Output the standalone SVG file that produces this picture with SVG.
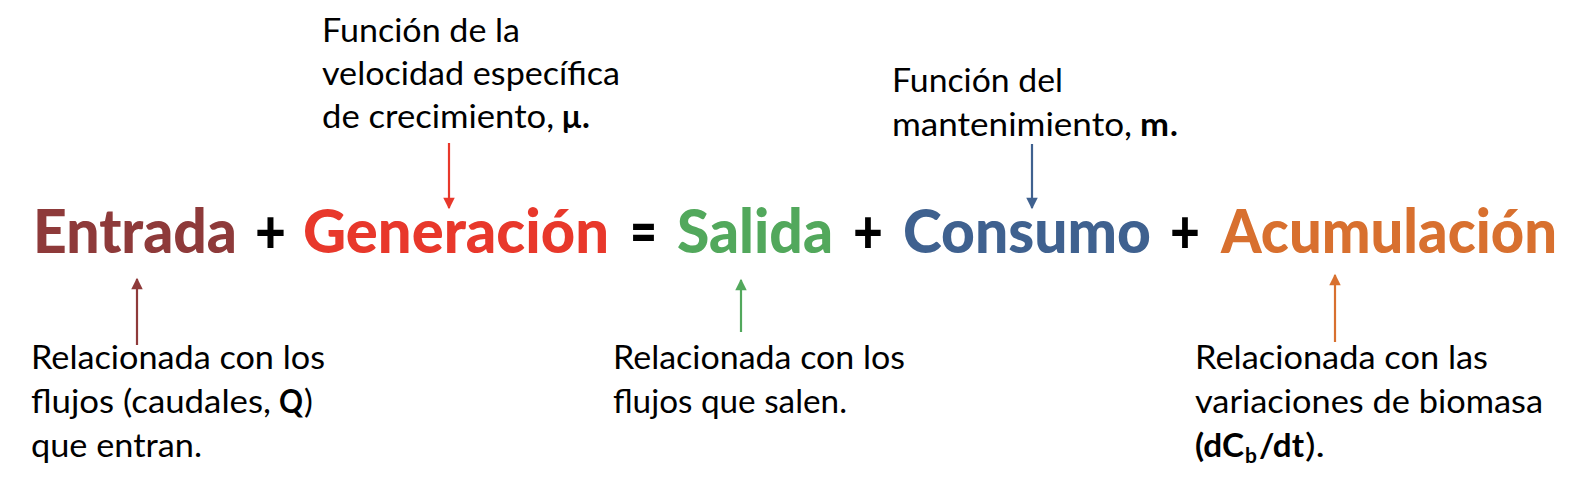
<svg xmlns="http://www.w3.org/2000/svg" width="1584" height="494" viewBox="0 0 1584 494">
<style>
.t{font-family:Lato,"Open Sans","Liberation Sans",sans-serif;font-weight:900;font-size:60px}
.n{font-family:Lato,"Open Sans","Liberation Sans",sans-serif;font-size:33px;fill:#000}
.b{font-weight:700}
.sub{font-size:21px}
.op{fill:#000}
.c1{fill:#8E3A3A}.c2{fill:#E8382B}.c3{fill:#52A85C}.c4{fill:#3F618F}.c5{fill:#D8702F}
.a{stroke-width:2.2;fill:none}
</style>
<defs>
<marker id="m1" viewBox="0 0 10 10" refX="9" refY="5" markerWidth="5.8" markerHeight="5.2" orient="auto"><path d="M0,0L10,5L0,10z" fill="#8E3A3A"/></marker>
<marker id="m2" viewBox="0 0 10 10" refX="9" refY="5" markerWidth="5.8" markerHeight="5.2" orient="auto"><path d="M0,0L10,5L0,10z" fill="#E8382B"/></marker>
<marker id="m3" viewBox="0 0 10 10" refX="9" refY="5" markerWidth="5.8" markerHeight="5.2" orient="auto"><path d="M0,0L10,5L0,10z" fill="#52A85C"/></marker>
<marker id="m4" viewBox="0 0 10 10" refX="9" refY="5" markerWidth="5.8" markerHeight="5.2" orient="auto"><path d="M0,0L10,5L0,10z" fill="#3F618F"/></marker>
<marker id="m5" viewBox="0 0 10 10" refX="9" refY="5" markerWidth="5.8" markerHeight="5.2" orient="auto"><path d="M0,0L10,5L0,10z" fill="#D8702F"/></marker>
</defs>
<rect width="1584" height="494" fill="#fff"/>
<g id="equation">
<g id="entrada"><text class="t c1" x="33" y="253" textLength="204" lengthAdjust="spacingAndGlyphs">Entrada</text></g>
<text class="t op" x="255" y="253" textLength="31" lengthAdjust="spacingAndGlyphs">+</text>
<g id="generacion"><text class="t c2" x="303" y="253" textLength="306" lengthAdjust="spacingAndGlyphs">Generación</text></g>
<text class="t op" x="630" y="253" textLength="27" lengthAdjust="spacingAndGlyphs">=</text>
<g id="salida"><text class="t c3" x="677" y="253" textLength="156" lengthAdjust="spacingAndGlyphs">Salida</text></g>
<text class="t op" x="853" y="253" textLength="30" lengthAdjust="spacingAndGlyphs">+</text>
<g id="consumo"><text class="t c4" x="903" y="253" textLength="248" lengthAdjust="spacingAndGlyphs">Consumo</text></g>
<text class="t op" x="1170" y="253" textLength="30" lengthAdjust="spacingAndGlyphs">+</text>
<g id="acumulacion"><text class="t c5" x="1221" y="253" textLength="336" lengthAdjust="spacingAndGlyphs">Acumulación</text></g>
</g>
<g id="note-generacion">
<text class="n" x="322" y="42" textLength="198" lengthAdjust="spacingAndGlyphs">Función de la</text>
<text class="n" x="322" y="85" textLength="298" lengthAdjust="spacingAndGlyphs">velocidad específica</text>
<text class="n" x="322" y="128" textLength="232" lengthAdjust="spacingAndGlyphs">de crecimiento,</text>
<text class="n b" x="562" y="128" textLength="19" lengthAdjust="spacingAndGlyphs">μ</text>
<text class="n b" x="582" y="128">.</text>
</g>
<g id="note-consumo">
<text class="n" x="892" y="92" textLength="171" lengthAdjust="spacingAndGlyphs">Función del</text>
<text class="n" x="892" y="136" textLength="240" lengthAdjust="spacingAndGlyphs">mantenimiento,</text>
<text class="n b" x="1140" y="136" textLength="29" lengthAdjust="spacingAndGlyphs">m</text>
<text class="n b" x="1170" y="136">.</text>
</g>
<g id="note-entrada">
<text class="n" x="31" y="369" textLength="294" lengthAdjust="spacingAndGlyphs">Relacionada con los</text>
<text class="n" x="31" y="413" textLength="240" lengthAdjust="spacingAndGlyphs">flujos (caudales,</text>
<text class="n b" x="279" y="413" textLength="24" lengthAdjust="spacingAndGlyphs">Q</text>
<text class="n" x="304" y="413">)</text>
<text class="n" x="31" y="457" textLength="171" lengthAdjust="spacingAndGlyphs">que entran.</text>
</g>
<g id="note-salida">
<text class="n" x="613" y="369" textLength="292" lengthAdjust="spacingAndGlyphs">Relacionada con los</text>
<text class="n" x="613" y="413" textLength="234" lengthAdjust="spacingAndGlyphs">flujos que salen.</text>
</g>
<g id="note-acumulacion">
<text class="n" x="1195" y="369" textLength="293" lengthAdjust="spacingAndGlyphs">Relacionada con las</text>
<text class="n" x="1195" y="413" textLength="348" lengthAdjust="spacingAndGlyphs">variaciones de biomasa</text>
<text class="n b" x="1195" y="457" textLength="49" lengthAdjust="spacingAndGlyphs">(dC</text>
<text class="n b sub" x="1245" y="463">b</text>
<text class="n b" x="1259" y="457" textLength="45" lengthAdjust="spacingAndGlyphs">/dt</text>
<text class="n" x="1305" y="457" textLength="20" lengthAdjust="spacingAndGlyphs">).</text>
</g>
<g id="connectors">
<line class="a" x1="137" y1="345" x2="137" y2="279" stroke="#8E3A3A" marker-end="url(#m1)"/>
<line class="a" x1="449" y1="143" x2="449" y2="208" stroke="#E8382B" marker-end="url(#m2)"/>
<line class="a" x1="741" y1="332" x2="741" y2="280" stroke="#52A85C" marker-end="url(#m3)"/>
<line class="a" x1="1032" y1="144" x2="1032" y2="208" stroke="#3F618F" marker-end="url(#m4)"/>
<line class="a" x1="1335" y1="342" x2="1335" y2="275" stroke="#D8702F" marker-end="url(#m5)"/>
</g>
</svg>
